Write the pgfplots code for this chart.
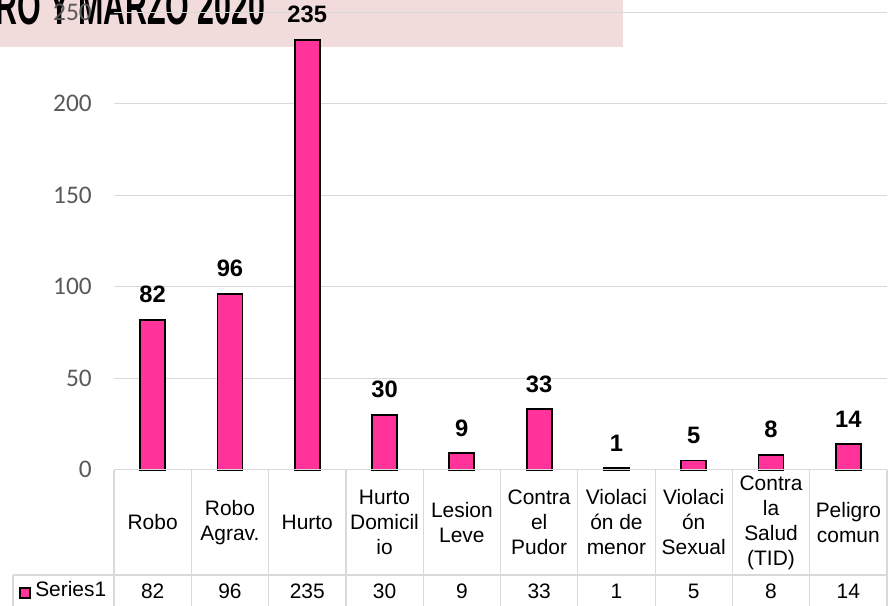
\documentclass[border=0pt]{standalone}
\usepackage{pgfplots}
\pgfplotsset{compat=1.18}
\usepackage{fontspec}
\setmainfont{Liberation Sans}
\newfontfamily\calib{Carlito}
\definecolor{barpink}{RGB}{255,51,153}
\definecolor{gridgray}{RGB}{217,217,217}
\definecolor{tickgray}{RGB}{89,89,89}
\definecolor{titlebg}{RGB}{242,220,219}
\tikzset{tv/.style={font=\fontsize{15.7}{15.7}\selectfont, inner sep=0pt}}
\begin{document}
\begin{tikzpicture}[x=0.75pt,y=0.75pt]
\path[use as bounding box] (0,0) rectangle (893,606);
% title banner
\fill[titlebg] (0,559) rectangle (623,606);
\node[anchor=base west, inner sep=0pt, font=\fontsize{40}{40}\selectfont\bfseries] at (-5,581)
  {\scalebox{0.57}[1]{RO Y MARZO 2020}};
\begin{axis}[
  at={(85.5pt,102.2pt)}, anchor=south west,
  scale only axis, width=579.75pt, height=343.1pt,
  xmin=-0.5, xmax=9.5, ymin=0, ymax=250,
  clip=false,
  /pgf/number format/assume math mode=true,
  axis line style={draw=none},
  ymajorgrids, grid style={gridgray, line width=0.9pt},
  ytick={0,50,100,150,200,250},
  major tick length=0pt,
  yticklabel style={font=\calib\fontsize{19}{19}\selectfont, color=tickgray, inner sep=0pt, xshift=-16.5pt},
  xtick={0,...,9},
  xticklabels={Robo, {Robo\\Agrav.}, Hurto, {Hurto\\Domicil\\io}, {Lesion\\Leve}, {Contra\\el\\Pudor}, {Violaci\\ón de\\menor}, {Violaci\\ón\\Sexual}, {Contra\\la\\Salud\\(TID)}, {Peligro\\comun}},
  xticklabel style={font=\fontsize{15.7}{18.75}\selectfont, align=center, anchor=center, inner sep=0pt, yshift=-39.5pt},
  nodes near coords,
  every node near coord/.append style={font=\fontsize{17.8}{17.8}\selectfont\bfseries, anchor=south, inner sep=0pt, yshift=12pt, text=black},
]
\addplot[ybar, bar width=18.75pt, bar shift=0pt, fill=barpink, draw=black, line width=1.3pt]
  coordinates {(0,82) (1,96) (2,235) (3,30) (4,9) (5,33) (6,1) (7,5) (8,8) (9,14)};
\node[tv] at (axis cs:0,-66.3) {82};
\node[tv] at (axis cs:1,-66.3) {96};
\node[tv] at (axis cs:2,-66.3) {235};
\node[tv] at (axis cs:3,-66.3) {30};
\node[tv] at (axis cs:4,-66.3) {9};
\node[tv] at (axis cs:5,-66.3) {33};
\node[tv] at (axis cs:6,-66.3) {1};
\node[tv] at (axis cs:7,-66.3) {5};
\node[tv] at (axis cs:8,-66.3) {8};
\node[tv] at (axis cs:9,-66.3) {14};
\end{axis}
% table lines
\begin{scope}[gridgray, line width=0.9pt]
\draw (114,136.3) -- (887,136.3);
\draw (13,31) -- (887,31);
\draw (13,31) -- (13,0);
\foreach \k in {0,...,10}{
  \draw ({114+77.3*\k},136.3) -- ({114+77.3*\k},0);
}
\end{scope}
\draw[fill=barpink, draw=black, line width=0.9pt] (20,8) rectangle (30,18);
\node[anchor=base west, inner sep=0pt, font=\fontsize{15.7}{15.7}\selectfont] at (35,9) {Series1};
\end{tikzpicture}
\end{document}
